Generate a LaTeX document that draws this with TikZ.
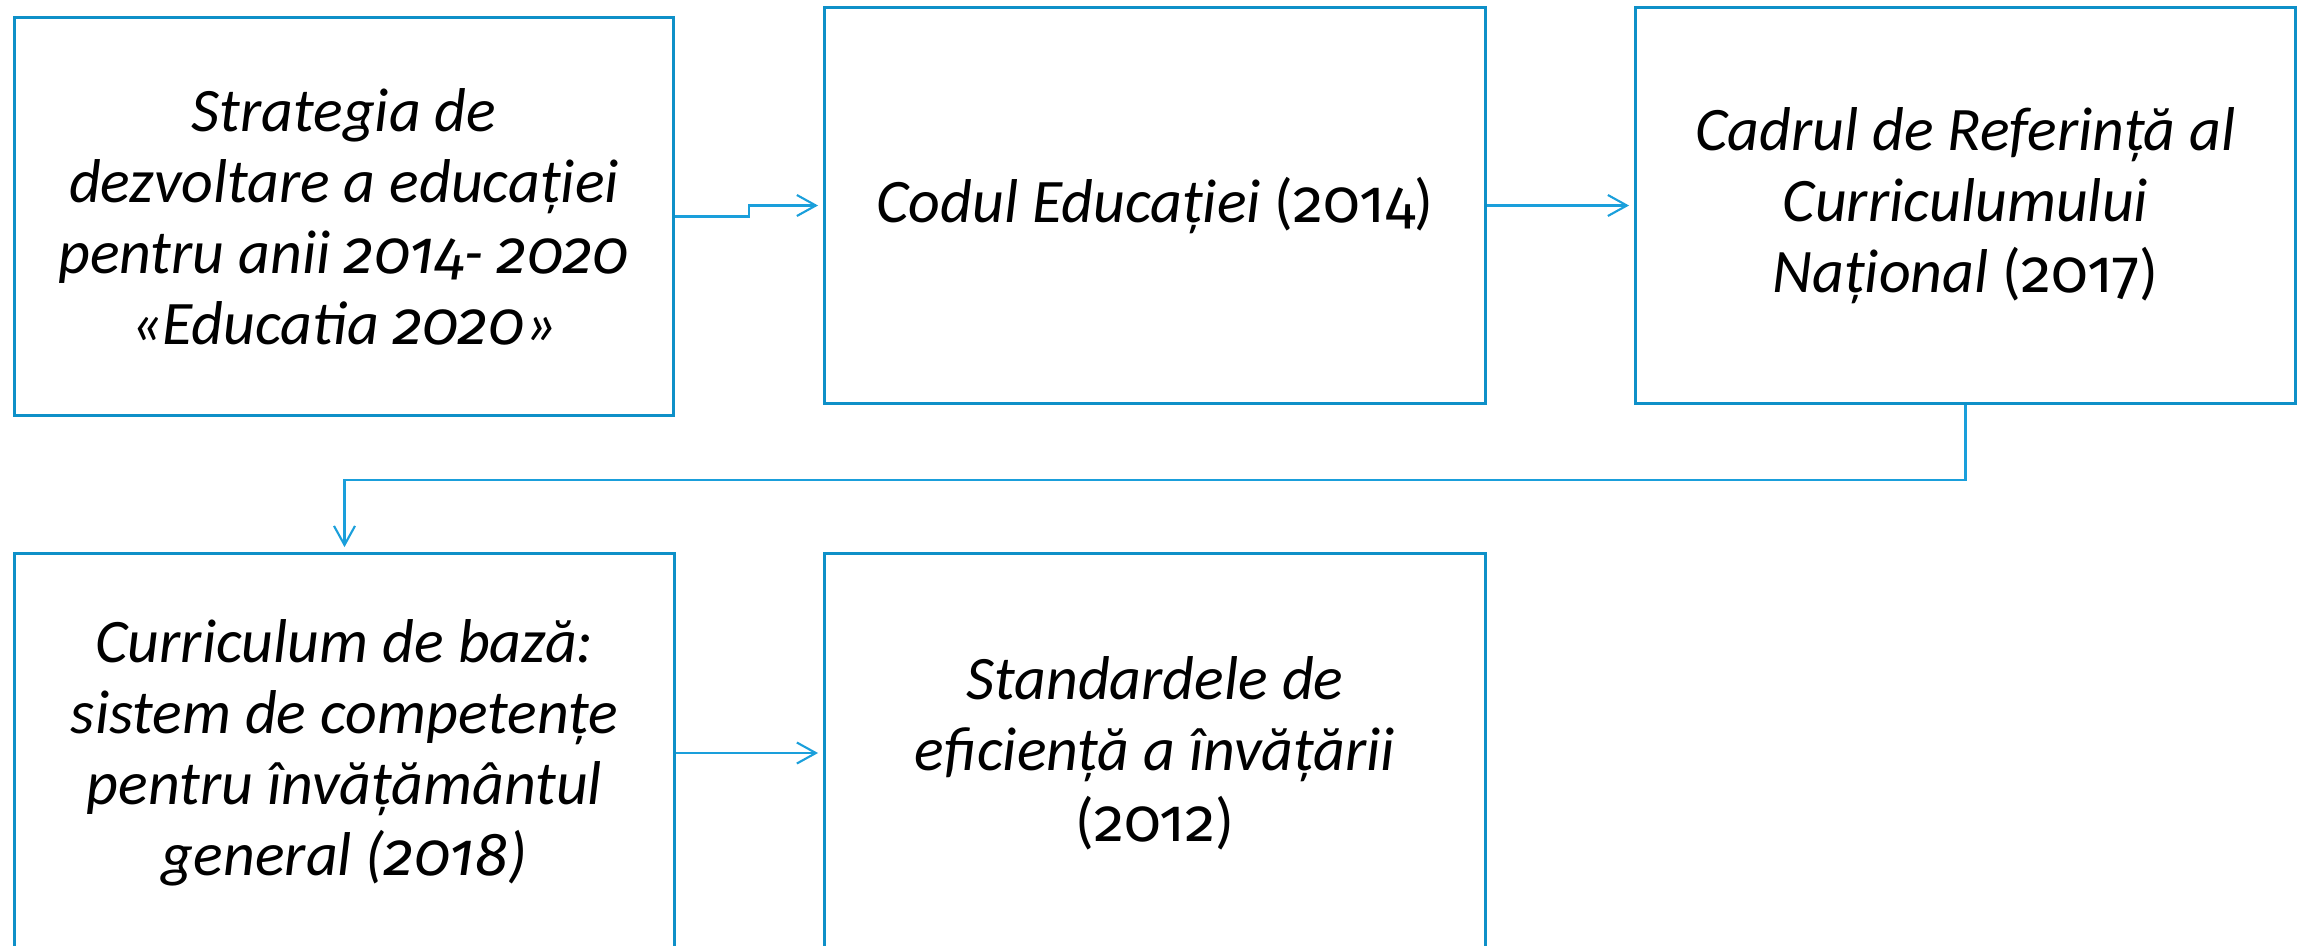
\documentclass[tikz,border=0pt]{standalone}
\usepackage{fontspec}
\setmainfont{Carlito}
\newfontfamily\numfont{Fira Sans}[Numbers=OldStyle, Scale=0.98]
\newcommand\yr[1]{{\numfont #1}}
\usetikzlibrary{arrows.meta}
\definecolor{boxblue}{HTML}{0E90C8}
\definecolor{linkblue}{HTML}{1A9FDB}
\tikzset{
  box/.style={draw=boxblue, line width=0.85pt, align=center, inner sep=0pt,
    font=\fontsize{17.6}{20.2}\selectfont},
  conn/.style={draw=linkblue, line width=0.6pt,
    -{Straight Barb[length=1.9mm, width=2.1mm]}, shorten >=1.5pt},
}
\begin{document}
\begin{tikzpicture}[x=0.01cm, y=-0.01cm]
\useasboundingbox (0,0) rectangle (2298,945);
\node[box, minimum width=6.58cm, minimum height=3.97cm] (b1) at (344,216.5)
  {\itshape Strategia de\\ \itshape dezvoltare a educației\\ \itshape pentru anii \yr{2014}- \yr{2020}\\ \itshape «Educatia \yr{2020}»};
\node[box, minimum width=6.60cm, minimum height=3.95cm] (b2) at (1155,205.5)
  {\textit{Codul Educației} (\yr{2014})};
\node[box, minimum width=6.59cm, minimum height=3.95cm] (b3) at (1965.5,205.5)
  {\itshape Cadrul de Referință al\\ \itshape Curriculumului\\ \textit{Național} (\yr{2017})};
\node[box, minimum width=6.59cm, minimum height=3.98cm] (b4) at (344.5,753)
  {\itshape Curriculum de bază:\\ \itshape sistem de competențe\\ \itshape pentru învățământul\\ \itshape general (\yr{2018})};
\node[box, minimum width=6.60cm, minimum height=3.98cm] (b5) at (1155,753)
  {\itshape Standardele de\\ \itshape eficiență a învățării\\ (\yr{2012})};
\coordinate (k1) at (749,0);
\draw[conn] (b1.east) -- (b1.east -| k1) |- (b2.west);
\draw[conn] (b2.east) -- (b3.west);
\draw[conn] (b3.south) -- ++(0,75) -| (b4.north);
\draw[conn] (b4.east) -- (b5.west);
\end{tikzpicture}
\end{document}
